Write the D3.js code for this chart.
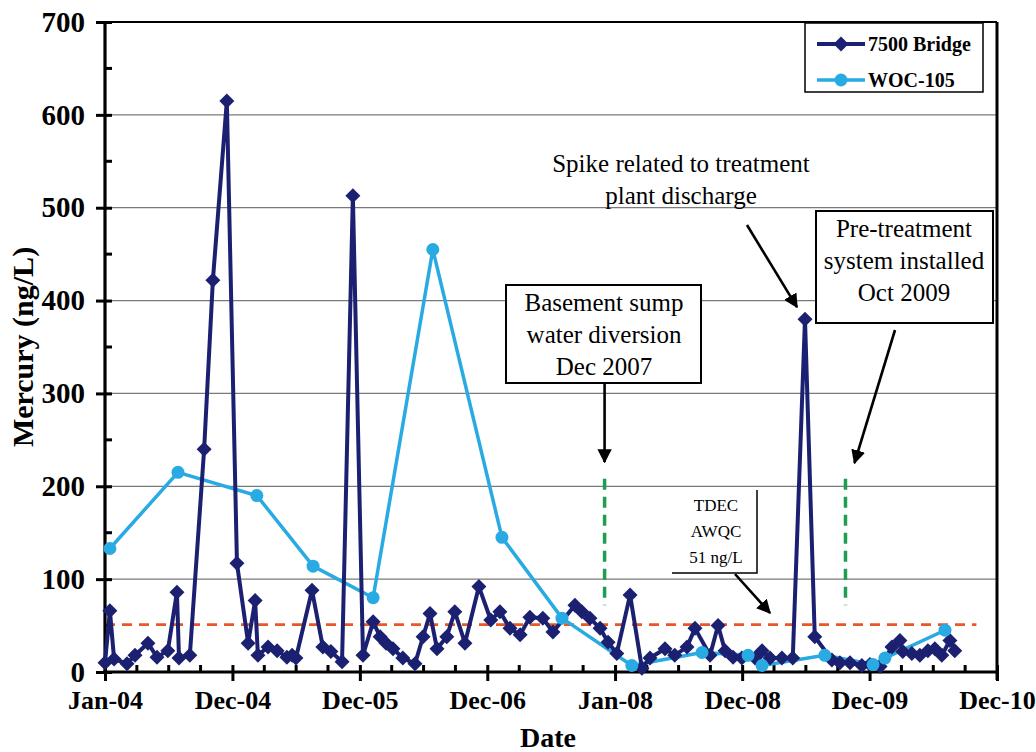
<!DOCTYPE html>
<html>
<head>
<meta charset="utf-8">
<script src="https://cdn.jsdelivr.net/npm/d3@7"></script>
<style>
  body { margin: 0; background: #fff; }
  svg { display: block; }
</style>
</head>
<body>
<svg id="chart" width="1036" height="752"></svg>
<script>
// Mercury concentrations at the 7500 Bridge station (ng/L)
const bridgeDates = [
  "2004-01-01","2004-01-15","2004-01-27","2004-03-04","2004-03-27","2004-05-03","2004-05-29","2004-06-29",
  "2004-07-25","2004-07-31","2004-08-31","2004-10-11","2004-11-05","2004-12-15","2005-01-13","2005-02-14",
  "2005-03-06","2005-03-14","2005-04-12","2005-05-08","2005-06-05","2005-06-20","2005-07-01","2005-08-16",
  "2005-09-16","2005-10-09","2005-11-10","2005-12-11","2006-01-09","2006-02-07","2006-02-27","2006-03-16",
  "2006-04-05","2006-05-03","2006-06-07","2006-06-30","2006-07-20","2006-08-09","2006-09-06","2006-09-29",
  "2006-10-28","2006-12-07","2007-01-10","2007-02-05","2007-03-06","2007-04-04","2007-05-02","2007-06-08",
  "2007-07-07","2007-09-08","2007-09-28","2007-10-21","2007-11-19","2007-12-12","2008-01-06","2008-02-13",
  "2008-03-18","2008-04-10","2008-05-23","2008-06-20","2008-07-25","2008-08-17","2008-09-29","2008-10-22",
  "2008-11-11","2008-12-04","2008-12-29","2009-02-05","2009-02-25","2009-03-20","2009-04-23","2009-05-24",
  "2009-06-28","2009-07-26","2009-09-13","2009-10-06","2009-11-04","2009-12-08","2009-12-31","2010-01-29",
  "2010-03-04","2010-03-27","2010-04-04","2010-04-30","2010-05-23","2010-06-15","2010-07-05","2010-07-25",
  "2010-08-17","2010-08-31"
];
const bridgeHg = [
  10, 66, 14, 9, 18, 31, 16, 23,
  86, 15, 18, 240, 422, 615, 117, 31,
  77, 18, 27, 23, 16, 18, 15, 88,
  27, 22, 11, 513, 18, 54, 38, 31,
  25, 15, 9, 38, 63, 25, 38, 65,
  31, 92, 56, 65, 47, 40, 59, 58,
  43, 72, 65, 58, 47, 32, 20, 83,
  4, 15, 25, 18, 27, 47, 18, 50,
  23, 16, 15, 15, 23, 15, 15, 15,
  380, 38, 13, 10, 10, 7, 8, 6,
  27, 34, 22, 20, 18, 23, 25, 18,
  34, 23
];

// Mercury concentrations at WOC-105 (ng/L)
const wocDates = [
  "2004-01-15","2004-07-28","2005-03-11","2005-08-19","2006-02-07","2006-07-28","2007-02-11","2007-08-02",
  "2008-02-18","2008-09-06","2009-01-16","2009-02-25","2009-08-24","2010-01-09","2010-02-12","2010-08-03"
];
const wocHg = [133, 215, 190, 114, 80, 455, 145, 58, 7, 21, 18, 7, 18, 8, 15, 45];

const yTicks = [0, 100, 200, 300, 400, 500, 600, 700];
const xTickDates = ["2004-01-01","2004-12-31","2005-12-31","2006-12-31","2008-01-01","2008-12-30","2009-12-30","2010-12-30"];
const xTickLabels = ["Jan-04","Dec-04","Dec-05","Dec-06","Jan-08","Dec-08","Dec-09","Dec-10"];

const awqcLimit = 51;                       // TDEC AWQC, ng/L
const eventDates = ["2007-12-02", "2009-10-22"]; // sump diversion, pre-treatment system
const seriesNames = ["7500 Bridge", "WOC-105"];

const parse = d3.timeParse("%Y-%m-%d");
const FONT = "'Liberation Serif','Times New Roman',Times,serif";
const DARK = "#1b2170";
const CYAN = "#2aaae2";

const svg = d3.select("#chart");
const margin = { left: 105, top: 22, right: 39, bottom: 80 };
const W = 1036, H = 752;
const x = d3.scaleTime()
  .domain([parse(xTickDates[0]), parse(xTickDates[xTickDates.length - 1])])
  .range([margin.left, W - margin.right]);
const y = d3.scaleLinear().domain([0, 700]).range([H - margin.bottom, margin.top]);

const x0 = x.range()[0], x1 = x.range()[1], y0 = y.range()[0], y1 = y.range()[1];

// gridlines
svg.append("g").selectAll("line").data(yTicks.filter(v => v > 0 && v < 700)).join("line")
  .attr("x1", x0).attr("x2", x1).attr("y1", d => y(d)).attr("y2", d => y(d))
  .attr("stroke", "#7a7a7a").attr("stroke-width", 1.3);

// plot frame (top + right)
svg.append("line").attr("x1", x0).attr("x2", x1).attr("y1", y1).attr("y2", y1)
  .attr("stroke", "#000").attr("stroke-width", 2);
svg.append("line").attr("x1", x1).attr("x2", x1).attr("y1", y1).attr("y2", y0 + 8)
  .attr("stroke", "#000").attr("stroke-width", 3);

// AWQC reference line
svg.append("line").attr("x1", x0).attr("x2", x(parse("2010-11-01")))
  .attr("y1", y(awqcLimit)).attr("y2", y(awqcLimit))
  .attr("stroke", "#e8572a").attr("stroke-width", 2.6).attr("stroke-dasharray", "10,7");

// event markers (green dashed)
svg.append("g").selectAll("line").data(eventDates).join("line")
  .attr("x1", d => x(parse(d))).attr("x2", d => x(parse(d)))
  .attr("y1", y(208)).attr("y2", y(72))
  .attr("stroke", "#1f9e4f").attr("stroke-width", 3.5).attr("stroke-dasharray", "11,7");

// y axis
const yAxis = svg.append("g").attr("transform", `translate(${x0},0)`)
  .call(d3.axisLeft(y).tickValues(yTicks).tickSize(8).tickPadding(12));
yAxis.select(".domain").attr("stroke", "#000").attr("stroke-width", 3.2)
  .attr("d", `M0,${y1}V${y0 + 2}`);
yAxis.selectAll(".tick line").attr("x1", -9).attr("x2", 7).attr("stroke-width", 3);
yAxis.selectAll(".tick text").attr("font-family", FONT).attr("font-weight", "bold")
  .attr("font-size", 29).attr("fill", "#000");
const yMinor = d3.range(50, 700, 100);
svg.append("g").selectAll("line").data(yMinor).join("line")
  .attr("x1", x0).attr("x2", x0 + 7).attr("y1", d => y(d)).attr("y2", d => y(d))
  .attr("stroke", "#000").attr("stroke-width", 3);

// x axis
const xTicks = xTickDates.map(parse);
const xAxis = svg.append("g").attr("transform", `translate(0,${y0})`)
  .call(d3.axisBottom(x).tickValues(xTicks).tickFormat((d, i) => xTickLabels[i]).tickSize(9).tickPadding(10));
xAxis.select(".domain").attr("stroke", "#000").attr("stroke-width", 3.2)
  .attr("d", `M${x0 - 2},0H${x1}`);
xAxis.selectAll(".tick line").attr("y1", -7).attr("y2", 9).attr("stroke-width", 3);
xAxis.selectAll(".tick text").attr("font-family", FONT).attr("font-weight", "bold")
  .attr("font-size", 26).attr("fill", "#000");
const xMinor = [];
for (let i = 0; i < xTicks.length - 1; i++) {
  const a = +xTicks[i], b = +xTicks[i + 1];
  for (let k = 1; k < 4; k++) xMinor.push(new Date(a + (b - a) * k / 4));
}
svg.append("g").selectAll("line").data(xMinor).join("line")
  .attr("x1", d => x(d)).attr("x2", d => x(d)).attr("y1", y0).attr("y2", y0 - 7)
  .attr("stroke", "#000").attr("stroke-width", 3);

// axis titles
svg.append("text").attr("x", (x0 + x1) / 2 - 3).attr("y", 747).attr("text-anchor", "middle")
  .attr("font-family", FONT).attr("font-weight", "bold").attr("font-size", 28).text("Date");
svg.append("text").attr("transform", `translate(33,${(y0 + y1) / 2}) rotate(-90)`)
  .attr("text-anchor", "middle").attr("font-family", FONT).attr("font-weight", "bold")
  .attr("font-size", 30).text("Mercury (ng/L)");

// series
const bridge = bridgeDates.map((d, i) => ({ date: parse(d), v: bridgeHg[i] }));
const woc = wocDates.map((d, i) => ({ date: parse(d), v: wocHg[i] }));
const line = d3.line().x(d => x(d.date)).y(d => y(d.v));
const diamond = "M0,-7.5L7.5,0L0,7.5L-7.5,0Z";

svg.append("path").datum(woc).attr("d", line).attr("fill", "none")
  .attr("stroke", CYAN).attr("stroke-width", 3.5).attr("stroke-linejoin", "round");
svg.append("path").datum(bridge).attr("d", line).attr("fill", "none")
  .attr("stroke", DARK).attr("stroke-width", 4).attr("stroke-linejoin", "round");
svg.append("g").selectAll("path").data(bridge).join("path")
  .attr("d", diamond).attr("transform", d => `translate(${x(d.date)},${y(d.v)})`)
  .attr("fill", DARK);
svg.append("g").selectAll("circle").data(woc).join("circle")
  .attr("cx", d => x(d.date)).attr("cy", d => y(d.v)).attr("r", 6.5).attr("fill", CYAN);

// legend
const lg = svg.append("g");
lg.append("rect").attr("x", 805).attr("y", 23).attr("width", 178).attr("height", 69)
  .attr("fill", "#fff").attr("stroke", "#000").attr("stroke-width", 1.5);
seriesNames.forEach((name, i) => {
  const ly = 44 + i * 36;
  lg.append("line").attr("x1", 817).attr("x2", 865).attr("y1", ly).attr("y2", ly)
    .attr("stroke", i === 0 ? DARK : CYAN).attr("stroke-width", i === 0 ? 4 : 3.5);
  if (i === 0) lg.append("path").attr("d", diamond).attr("transform", `translate(841,${ly})`).attr("fill", DARK);
  else lg.append("circle").attr("cx", 841).attr("cy", ly).attr("r", 6.5).attr("fill", CYAN);
  lg.append("text").attr("x", 868).attr("y", ly + 7).attr("font-family", FONT)
    .attr("font-weight", "bold").attr("font-size", 20).text(name);
});

// annotations
svg.append("defs").append("marker").attr("id", "arrow").attr("viewBox", "0 0 10 10")
  .attr("refX", 9).attr("refY", 5).attr("markerWidth", 5.5).attr("markerHeight", 5.5)
  .attr("markerUnits", "strokeWidth").attr("orient", "auto")
  .append("path").attr("d", "M0,0L10,5L0,10Z").attr("fill", "#000");

function textBlock(lines, cx, cyFirst, step, size) {
  const t = svg.append("text").attr("font-family", FONT).attr("font-size", size)
    .attr("text-anchor", "middle").attr("fill", "#000");
  lines.forEach((s, i) => t.append("tspan").attr("x", cx).attr("y", cyFirst + i * step).text(s));
}
function arrow(xa, ya, xb, yb) {
  svg.append("line").attr("x1", xa).attr("y1", ya).attr("x2", xb).attr("y2", yb)
    .attr("stroke", "#000").attr("stroke-width", 2.6).attr("marker-end", "url(#arrow)");
}

// spike note
textBlock(["Spike related to treatment", "plant discharge"], 681, 172, 32, 25);
arrow(747, 225, x(parse(bridgeDates[72])) - 8, y(bridgeHg[72]) - 12);

// sump diversion box
const ex0 = x(parse(eventDates[0])), ex1 = x(parse(eventDates[1]));
svg.append("rect").attr("x", 506).attr("y", 285).attr("width", 195).attr("height", 98)
  .attr("fill", "#fff").attr("stroke", "#000").attr("stroke-width", 2);
textBlock(["Basement sump", "water diversion", "Dec 2007"], 604, 311, 32, 25);
arrow(ex0, 384, ex0, 462);

// pre-treatment box
svg.append("rect").attr("x", 816).attr("y", 211).attr("width", 177).attr("height", 112)
  .attr("fill", "#fff").attr("stroke", "#000").attr("stroke-width", 2);
textBlock(["Pre-treatment", "system installed", "Oct 2009"], 904, 237, 32, 25);
arrow(895, 330, ex1 + 9, 463);

// AWQC note
svg.append("path").attr("d", "M672,573H757V490").attr("fill", "none")
  .attr("stroke", "#000").attr("stroke-width", 1.5);
textBlock(["TDEC", "AWQC", "51 ng/L"], 716, 511, 26, 17);
arrow(735, 574, 770, 613);
</script>
</body>
</html>
